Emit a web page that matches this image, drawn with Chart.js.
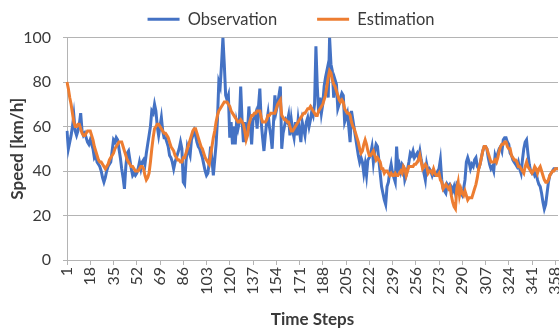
<!DOCTYPE html>
<html>
<head>
<meta charset="utf-8">
<script src="https://cdn.jsdelivr.net/npm/chart.js@4.4.1/dist/chart.umd.min.js"></script>
<style>
  html, body { margin: 0; padding: 0; background: #fff; }
  #wrap { width: 559px; height: 332px; position: relative; }
</style>
</head>
<body>
<div id="wrap"><canvas id="speedChart"></canvas></div>
<script>
// time steps 1..360 (category axis), labels shown every 17 steps
const timeSteps = [];
for (let i = 1; i <= 360; i++) timeSteps.push(i);
const tickLabels = [1, 18, 35, 52, 69, 86, 103, 120, 137, 154, 171, 188, 205, 222, 239, 256, 273, 290, 307, 324, 341, 358];

const observation = [
    58, 50, 53, 56, 60, 65, 58, 56, 58, 61,
    66, 58, 56, 57, 55, 53, 52, 54, 52, 50,
    46, 47, 44, 43, 42, 40, 37, 35, 37, 40,
    42, 43, 44, 49, 54, 53, 55, 54, 50, 46,
    41, 37, 32, 42, 48, 49, 45, 41, 38, 39,
    38, 39, 41, 44, 41, 44, 45, 43, 48, 52,
    56, 60, 67, 66, 70, 67, 60, 56, 60, 64,
    58, 55, 55, 53, 51, 47, 46, 44, 41, 44,
    46, 48, 50, 53, 50, 35, 34, 44, 51, 49,
    47, 54, 56, 58, 56, 53, 51, 50, 48, 46,
    43, 40, 38, 39, 44, 51, 45, 38, 45, 52,
    63, 80, 78, 88, 100, 88, 74, 72, 74, 55,
    62, 52, 60, 52, 62, 59, 62, 78, 63, 53,
    62, 56, 58, 69, 60, 52, 63, 64, 66, 59,
    69, 77, 62, 55, 49, 56, 62, 66, 60, 56,
    50, 62, 74, 67, 70, 74, 78, 50, 57, 60,
    63, 62, 65, 56, 63, 58, 55, 62, 56, 63,
    58, 53, 62, 59, 56, 62, 64, 60, 63, 67,
    65, 70, 96, 78, 66, 73, 66, 70, 78, 82,
    85, 73, 100, 88, 85, 73, 81, 79, 68, 70,
    73, 75, 74, 62, 64, 66, 60, 53, 67, 63,
    59, 55, 51, 47, 44, 46, 44, 39, 43, 38,
    45, 46, 48, 51, 44, 49, 52, 51, 45, 39,
    33, 30, 27, 25, 33, 35, 40, 43, 39, 37,
    35, 51, 41, 43, 40, 43, 42, 36, 38, 41,
    44, 48, 47, 49, 46, 47, 48, 46, 49, 45,
    42, 39, 36, 43, 40, 41, 40, 38, 40, 38,
    38, 40, 41, 45, 36, 32, 31, 30, 34, 33,
    34, 33, 31, 33, 30, 34, 33, 32, 30, 29,
    32, 36, 44, 46, 44, 41, 43, 42, 45, 46,
    42, 41, 43, 46, 49, 51, 51, 50, 46, 43,
    41, 42, 40, 47, 45, 48, 50, 51, 49, 54,
    55, 55, 53, 52, 48, 47, 45, 44, 43, 42,
    44, 41, 39, 45, 50, 53, 54, 48, 43, 40,
    39, 40, 38, 39, 36, 34, 33, 30, 26, 23,
    25, 30, 35, 38, 39, 40, 41, 41, 41, 41
];

// estimated speed (km/h)
const estimation = [
    80, 77, 73, 70, 66, 62, 60, 60, 61, 61,
    59, 57, 56, 56, 57, 58, 58, 58, 56, 54,
    51, 49, 47, 45, 44, 44, 43, 42, 41, 42,
    43, 45, 46, 47, 48, 50, 51, 52, 53, 53,
    53, 51, 49, 47, 45, 44, 43, 42, 42, 41,
    40, 40, 40, 41, 42, 42, 41, 38, 36, 37,
    39, 44, 50, 55, 59, 60, 61, 61, 60, 59,
    58, 57, 57, 56, 55, 53, 51, 50, 49, 47,
    46, 45, 45, 44, 44, 46, 46, 48, 50, 52,
    54, 56, 58, 59, 59, 57, 55, 53, 51, 50,
    48, 46, 45, 44, 43, 47, 51, 55, 58, 62,
    65, 67, 68, 69, 70, 71, 71, 71, 70, 69,
    67, 66, 65, 64, 63, 62, 62, 63, 62, 61,
    58, 54, 56, 61, 63, 65, 65, 66, 66, 67,
    67, 67, 64, 62, 62, 62, 63, 65, 65, 66,
    66, 66, 66, 68, 70, 71, 72, 65, 64, 63,
    63, 62, 62, 60, 58, 58, 59, 60, 61, 62,
    63, 64, 65, 66, 66, 67, 68, 68, 69, 68,
    67, 66, 65, 65, 67, 68, 69, 70, 72, 74,
    78, 82, 85, 84, 81, 79, 78, 76, 74, 72,
    71, 72, 71, 68, 67, 66, 66, 65, 62, 60,
    59, 57, 55, 53, 50, 48, 49, 52, 54, 52,
    49, 47, 47, 48, 49, 47, 45, 46, 45, 44,
    41, 41, 39, 40, 40, 39, 38, 39, 38, 38,
    39, 38, 38, 39, 40, 39, 42, 41, 38, 40,
    42, 42, 42, 42, 43, 43, 44, 45, 47, 44,
    41, 42, 43, 42, 39, 40, 40, 39, 41, 39,
    38, 38, 39, 36, 35, 32, 33, 34, 33, 32,
    33, 29, 26, 24, 23, 32, 35, 29, 32, 30,
    29, 31, 29, 27, 28, 28, 28, 30, 32, 34,
    37, 41, 43, 46, 49, 51, 51, 50, 48, 46,
    44, 44, 44, 45, 44, 46, 49, 51, 52, 52,
    53, 53, 51, 50, 50, 47, 46, 45, 45, 44,
    42, 42, 41, 40, 39, 42, 44, 42, 41, 40,
    39, 40, 42, 41, 39, 41, 42, 40, 38, 36,
    35, 35, 36, 38, 39, 40, 40, 41, 41, 41
];

const textColor = '#3a3a3a';
const gridColor = '#b4b4b4';
const fontFamily = 'Lato, "Liberation Sans", sans-serif';

const ctx = document.getElementById('speedChart').getContext('2d');
new Chart(ctx, {
    type: 'line',
    data: {
        labels: timeSteps,
        datasets: [
            {
                label: 'Observation',
                data: observation,
                borderColor: '#4472C4',
                backgroundColor: '#4472C4',
                borderWidth: 3,
                pointRadius: 0,
                tension: 0,
                order: 1
            },
            {
                label: 'Estimation',
                data: estimation,
                borderColor: '#ED7D31',
                backgroundColor: '#ED7D31',
                borderWidth: 3,
                pointRadius: 0,
                tension: 0,
                order: 0
            }
        ]
    },
    options: {
        responsive: true,
        maintainAspectRatio: false,
        animation: false,
        // left padding pushes the legend's centre to the right, y axis box shrinks to match
        layout: { padding: { top: -29, left: 24, right: 1, bottom: 0 } },
        plugins: {
            legend: {
                position: 'top',
                labels: {
                    usePointStyle: true,
                    pointStyle: 'line',
                    pointStyleWidth: 32,
                    padding: 40,
                    color: textColor,
                    font: { family: fontFamily, size: 16.5 },
                    sort: (a, b) => a.datasetIndex - b.datasetIndex
                }
            },
            tooltip: { enabled: false }
        },
        scales: {
            x: {
                offset: false,
                grid: {
                    drawOnChartArea: false,
                    drawTicks: true,
                    tickLength: 5,
                    color: gridColor
                },
                border: { color: gridColor, width: 1 },
                ticks: {
                    autoSkip: false,
                    minRotation: 90,
                    maxRotation: 90,
                    padding: 2,
                    color: textColor,
                    font: { family: fontFamily, size: 16 },
                    callback: function (val) {
                        const lab = this.getLabelForValue(val);
                        return tickLabels.includes(lab) ? String(lab) : null;
                    }
                },
                title: {
                    display: true,
                    text: 'Time Steps',
                    color: textColor,
                    font: { family: fontFamily, size: 17, weight: 'bold' },
                    padding: { top: 2, bottom: 2 }
                },
                afterFit: (scale) => {
                    scale.height = 72;
                    scale.paddingRight = 0;
                    scale.paddingLeft = 0;
                }
            },
            y: {
                min: 0,
                max: 100,
                ticks: {
                    stepSize: 20,
                    padding: 12,
                    color: textColor,
                    font: { family: fontFamily, size: 16 }
                },
                grid: {
                    color: gridColor,
                    lineWidth: 1,
                    tickLength: 4
                },
                border: { color: gridColor, width: 1 },
                title: {
                    display: true,
                    text: 'Speed [km/h]',
                    color: textColor,
                    font: { family: fontFamily, size: 17, weight: 'bold' },
                    padding: { top: -17, bottom: 0 }
                },
                afterFit: (scale) => { scale.width = 43; }
            }
        }
    }
});
</script>
</body>
</html>
